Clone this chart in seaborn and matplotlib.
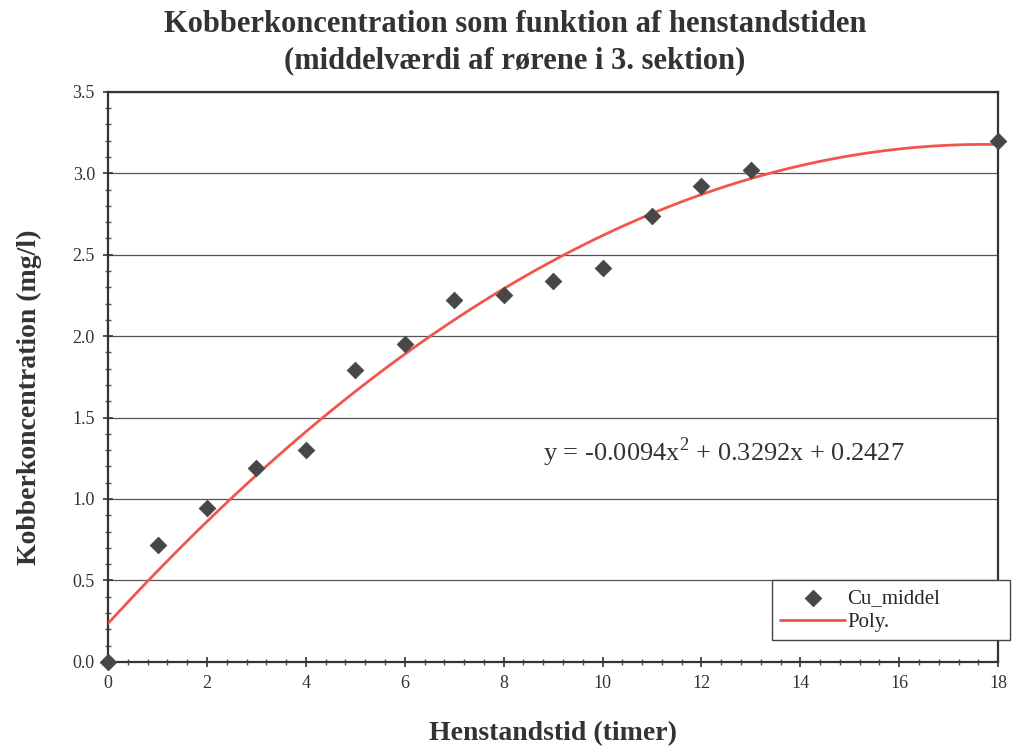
import matplotlib
matplotlib.use("Agg")
import matplotlib.pyplot as plt
import seaborn as sns
import pandas as pd
from matplotlib.ticker import MultipleLocator

# Data
timer = [0, 1, 2, 3, 4, 5, 6, 7, 8, 9, 10, 11, 12, 13, 18]
cu_middel = [0.0, 0.72, 0.945, 1.19, 1.30, 1.79, 1.95, 2.22, 2.25, 2.34, 2.42, 2.74, 2.92, 3.02, 3.20]
x_ticks = [0, 2, 4, 6, 8, 10, 12, 14, 16, 18]
y_ticks = [0.0, 0.5, 1.0, 1.5, 2.0, 2.5, 3.0, 3.5]
title = "Kobberkoncentration som funktion af henstandstiden\n(middelværdi af rørene i 3. sektion)"
equation = "y = -0.0094x$^2$ + 0.3292x + 0.2427"

df = pd.DataFrame({"timer": timer, "cu": cu_middel})

sns.set_theme(style="white")
plt.rcParams["font.family"] = ["Liberation Serif", "DejaVu Serif"]
plt.rcParams["mathtext.fontset"] = "custom"
plt.rcParams["mathtext.rm"] = "Liberation Serif"

fig = plt.figure(figsize=(10.3, 7.47), dpi=100)
ax = fig.add_axes([0.105, 0.114, 0.864, 0.763])

ax.set_xlim(0, 18)
ax.set_ylim(0, 3.5)

sns.regplot(data=df, x="timer", y="cu", order=2, ci=None, scatter=False,
            truncate=False, ax=ax,
            line_kws=dict(color="#f2554c", lw=2.0, zorder=3))
fit_line = ax.lines[-1]
fit_line.set_label("Poly.")
sns.scatterplot(data=df, x="timer", y="cu", marker="D", s=70, color="#474747",
                edgecolor="#474747", ax=ax, label="Cu_middel", zorder=4, clip_on=False)

ax.set_xlim(0, 18)
ax.set_ylim(0, 3.5)
ax.set_xticks(x_ticks)
ax.set_yticks(y_ticks)
ax.set_yticklabels([f"{v:.1f}" for v in y_ticks])
ax.xaxis.set_minor_locator(MultipleLocator(0.4))
ax.yaxis.set_minor_locator(MultipleLocator(0.1))
ax.tick_params(axis="both", which="major", direction="inout", length=7, width=1.2,
               color="#333333", labelsize=13, labelcolor="#333333", pad=6,
               bottom=True, left=True)
ax.tick_params(axis="both", which="minor", direction="inout", length=5, width=1.0,
               color="#555555", bottom=True, left=True)

ax.grid(axis="y", which="major", color="#555555", lw=0.9)
ax.grid(axis="x", visible=False)
for sp in ax.spines.values():
    sp.set_color("#333333")
    sp.set_linewidth(1.6)

ax.set_xlabel("Henstandstid (timer)", fontsize=20, fontweight="bold", color="#333333", labelpad=21)
ax.set_ylabel("Kobberkoncentration (mg/l)", fontsize=20, fontweight="bold", color="#333333")
ax.yaxis.set_label_coords(-0.074, 0.465)
fig.suptitle(title, fontsize=22, fontweight="bold", color="#333333", y=0.987, linespacing=1.35)

ax.text(8.8, 1.29, equation, fontsize=19, color="#333333", va="center", ha="left")

scat = ax.collections[-1]
leg = ax.legend([scat, fit_line], ["Cu_middel", "Poly."],
                loc="lower left", bbox_to_anchor=(0.746, 0.038, 0.267, 0.1), mode="expand",
                fontsize=15, frameon=True, fancybox=False, framealpha=1, edgecolor="#444444",
                borderpad=0.4, handlelength=3.1, handletextpad=0.1, labelspacing=0.2,
                borderaxespad=0)
leg.get_frame().set_linewidth(1.0)

fig.savefig("out.png", dpi=100)
